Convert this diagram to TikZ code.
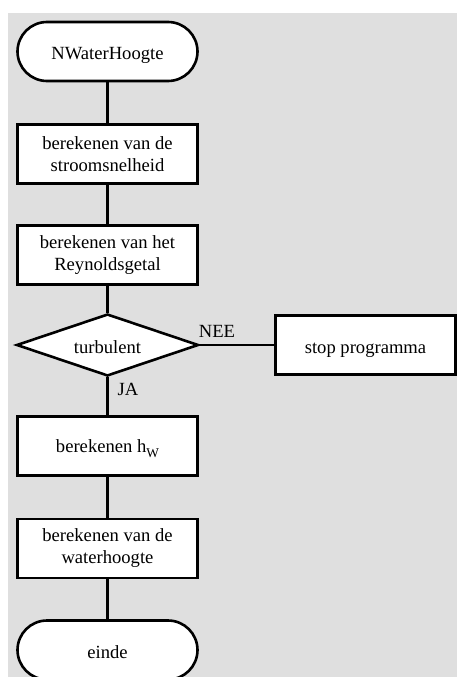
\documentclass[tikz,border=0pt]{standalone}
\usepackage{fontspec}
\setmainfont{Liberation Serif}
\usetikzlibrary{shapes.geometric}
\definecolor{bggray}{RGB}{223,223,223}
\tikzset{
  base/.style={draw=black, line width=2.6pt, fill=white, inner sep=0pt,
    font=\fontsize{18.6}{22}\selectfont, align=center},
  oneline/.style={text height=16pt, text depth=0pt},
  procbox/.style={base, rectangle, minimum width=180pt, minimum height=59pt},
  termbox/.style={base, rectangle, rounded corners=29.5pt, minimum width=180pt, minimum height=59pt},
  decbox/.style={base, diamond, aspect=2.95, minimum width=182pt, minimum height=62pt},
  conn/.style={line width=2.6pt},
  lbl/.style={font=\fontsize{18.6}{22}\selectfont, inner sep=0pt}
}
\begin{document}
\begin{tikzpicture}[x=1pt,y=-1pt]
\useasboundingbox (0,0) rectangle (457,677);
\fill[bggray] (8,13) rectangle (457,677);
\begin{scope}
\clip (0,0) rectangle (457,677);
\node[termbox, oneline] (start) at (107.5,51.5) {NWaterHoogte};
\node[procbox] (snel) at (107.5,154) {berekenen van de\\stroomsnelheid};
\node[procbox] (rey) at (107.5,255) {berekenen van het\\Reynoldsgetal};
\node[decbox, oneline] (turb) at (107.5,345) {turbulent};
\node[procbox, oneline] (stop) at (365.5,345) {stop programma};
\node[procbox, text height=13pt, text depth=0pt] (hw) at (107.5,446) {berekenen h\raisebox{-0.28em}{\scalebox{0.72}{W}}};
\node[procbox] (water) at (107.5,548.5) {berekenen van de\\waterhoogte};
\node[termbox, oneline] (einde) at (107.5,650) {einde};
\draw[conn] (start) -- (snel);
\draw[conn] (snel) -- (rey);
\draw[conn] (rey) -- (turb);
\draw[conn] (turb) -- (hw);
\draw[conn] (turb.east) -- (stop.west);
\draw[conn] (hw) -- (water);
\draw[conn] (water) -- (einde);
\node[lbl] (nee) at (217,331) {NEE};
\node[lbl] (ja) at (128,389) {JA};
\end{scope}
\end{tikzpicture}
\end{document}
